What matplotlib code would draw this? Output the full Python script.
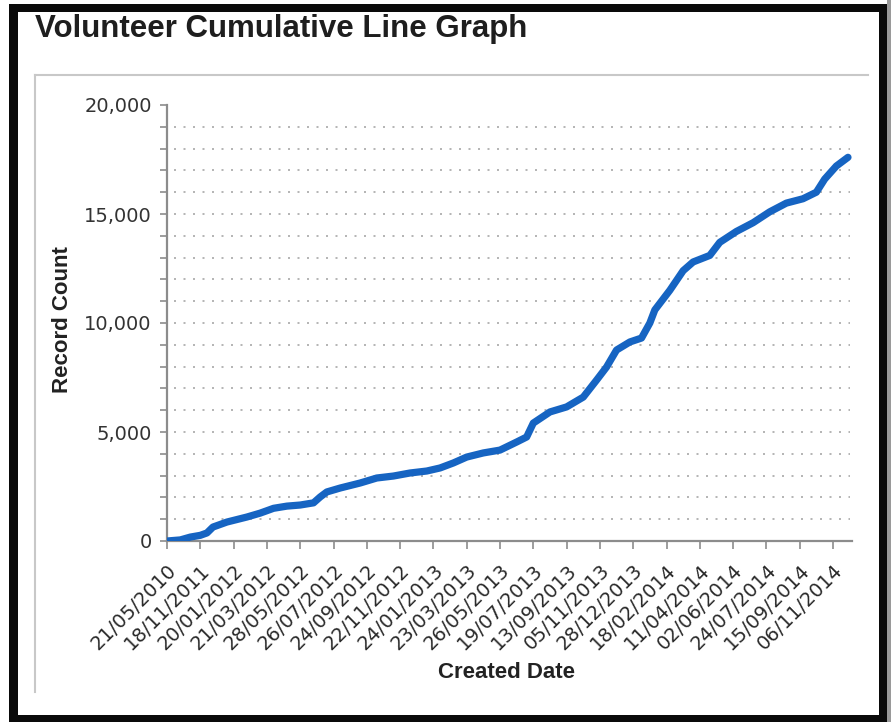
"""
Volunteer cumulative line graph (record count by created date).
"""

import numpy as np
import matplotlib

matplotlib.use("Agg")
import matplotlib.pyplot as plt
from matplotlib.patches import Rectangle

# category labels on the x axis (evenly spaced)
date_labels = [
    "21/05/2010", "18/11/2011", "20/01/2012", "21/03/2012", "28/05/2012",
    "26/07/2012", "24/09/2012", "22/11/2012", "24/01/2013", "23/03/2013",
    "26/05/2013", "19/07/2013", "13/09/2013", "05/11/2013", "28/12/2013",
    "18/02/2014", "11/04/2014", "02/06/2014", "24/07/2014", "15/09/2014",
    "06/11/2014",
]

# cumulative record count (x in label units)
pos = [0, 0.4, 0.7, 1.0, 1.2, 1.38, 1.8, 2.4, 2.8, 3.2, 3.6, 4.0, 4.4, 4.6,
       4.8, 5.2, 5.8, 6.3, 6.8, 7.3, 7.8, 8.2, 8.6, 9.0, 9.5, 10.0, 10.5,
       10.8, 11.0, 11.5, 12.0, 12.5, 12.9, 13.2, 13.5, 13.9, 14.25, 14.5,
       14.65, 15.1, 15.5, 15.8, 16.3, 16.6, 17.1, 17.6, 18.1, 18.6, 19.1,
       19.5, 19.75, 20.1, 20.45]
count = [0, 50, 180, 260, 370, 640, 870, 1100, 1280, 1500, 1600, 1650, 1750,
         2020, 2250, 2430, 2660, 2890, 2980, 3120, 3210, 3350, 3580, 3850,
         4040, 4170, 4540, 4770, 5410, 5920, 6150, 6600, 7380, 7980, 8760,
         9130, 9310, 10000, 10600, 11500, 12400, 12800, 13100, 13700, 14200,
         14600, 15100, 15500, 15700, 16000, 16600, 17200, 17600]

W, H = 891, 722


def fx(px):
    return px / W


def fy(py):
    return 1 - py / H


def main() -> None:
    fig = plt.figure(figsize=(W / 100, H / 100), dpi=100)
    fig.patch.set_facecolor("white")

    # screenshot frame
    black = "#0a0a0a"
    for x0, y0, x1, y1 in [(9, 4, 887, 12), (9, 4, 18, 722), (879, 4, 887, 722), (9, 715, 887, 722)]:
        fig.add_artist(Rectangle((fx(x0), fy(y1)), fx(x1 - x0), (y1 - y0) / H,
                                 transform=fig.transFigure, color=black, lw=0))
    fig.add_artist(Rectangle((fx(887), 0), fx(4), 1, transform=fig.transFigure, color="#9a9a9a", lw=0))

    # panel border lines
    fig.add_artist(plt.Line2D([fx(35), fx(868)], [fy(75), fy(75)], transform=fig.transFigure,
                              color="#c8c8c8", lw=1.5))
    fig.add_artist(plt.Line2D([fx(35), fx(35)], [fy(75), fy(692)], transform=fig.transFigure,
                              color="#c8c8c8", lw=1.5))

    ax = fig.add_axes([fx(167), fy(541), fx(852 - 167), (541 - 105) / H])
    x_max = (852 - 167) / 33.3
    ax.set_xlim(0, x_max)
    ax.set_ylim(0, 20000)

    ax.hlines(np.arange(1000, 20000, 1000), 0.2, 20.5, colors="#a8a8a8",
              linestyles=(0, (1.2, 4.5)), lw=1.2, zorder=1)
    ax.plot(pos, count, color="#1664c2", lw=5.2, solid_joinstyle="round",
            solid_capstyle="round", zorder=3)

    for side in ("top", "right"):
        ax.spines[side].set_visible(False)
    for side in ("left", "bottom"):
        ax.spines[side].set_color("#8c8c8c")
        ax.spines[side].set_linewidth(1.6)

    ax.set_yticks(np.arange(0, 20001, 5000))
    ax.set_yticks(np.arange(0, 20001, 1000), minor=True)
    ax.set_yticklabels([f"{v:,}" for v in range(0, 20001, 5000)])
    ax.tick_params(axis="y", which="both", length=5, width=1.2, color="#8c8c8c",
                   labelsize=14, labelcolor="#333333", pad=6)

    ax.set_xticks(range(len(date_labels)))
    ax.set_xticklabels(date_labels, rotation=45, ha="right", va="top", rotation_mode="anchor")
    ax.tick_params(axis="x", length=6, width=1.2, color="#8c8c8c", labelsize=14,
                   labelcolor="#2a2a2a", pad=8)
    for lab in ax.get_xticklabels() + ax.get_yticklabels():
        lab.set_family("DejaVu Sans")

    fig.text(fx(35), fy(29), "Volunteer Cumulative Line Graph", ha="left", va="center",
             fontsize=22.5, fontweight="bold", family="Liberation Sans", color="#1e1e1e")
    fig.text(fx(62), fy(320), "Record Count", rotation=90, ha="center", va="center",
             fontsize=16, fontweight="bold", family="Liberation Sans", color="#222222")
    fig.text(fx(507), fy(673), "Created Date", ha="center", va="center",
             fontsize=16, fontweight="bold", family="Liberation Sans", color="#222222")

    fig.savefig("out.png", dpi=100)


if __name__ == "__main__":
    main()
